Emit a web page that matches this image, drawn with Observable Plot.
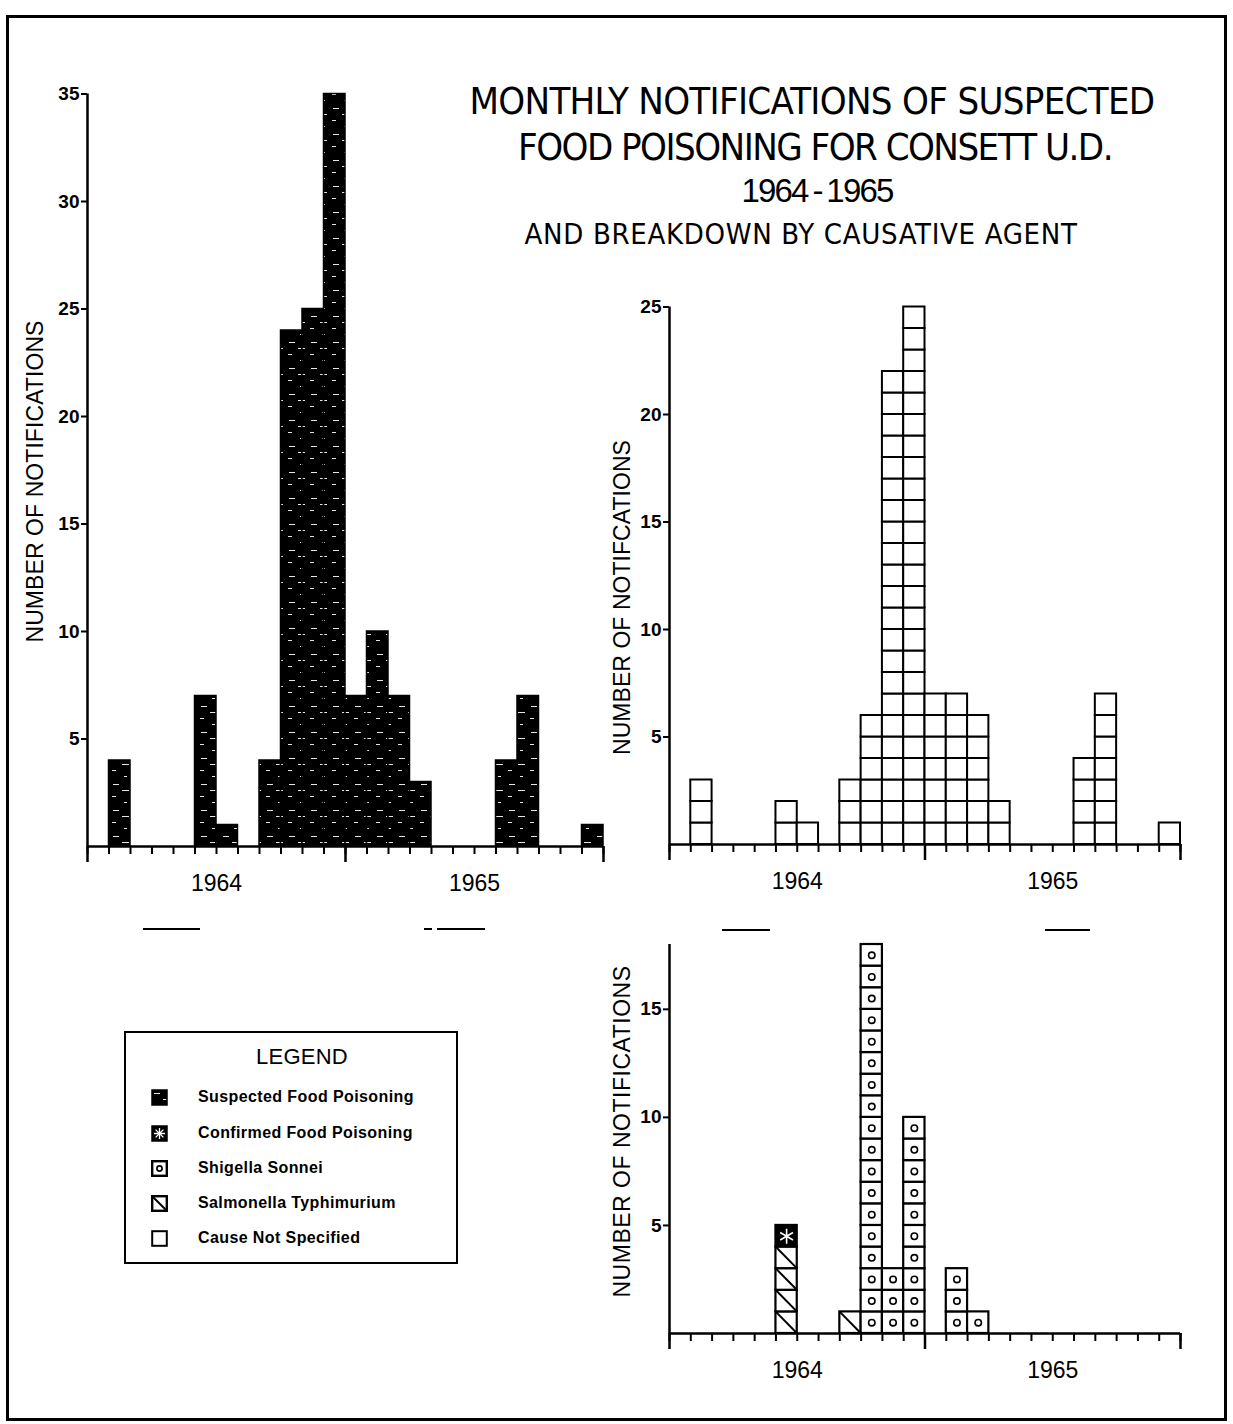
<!DOCTYPE html>
<html>
<head>
<meta charset="utf-8">
<script src="https://cdn.jsdelivr.net/npm/d3@7"></script>
<script src="https://cdn.jsdelivr.net/npm/@observablehq/plot@0.6"></script>
<style>
  html, body { margin: 0; padding: 0; background: #fff; }
  #page { position: relative; width: 1233px; height: 1424px; overflow: hidden; background: #fff; color: #000;
          font-family: "Liberation Sans", Arial, sans-serif; }
  #page svg.chart { position: absolute; overflow: visible; max-width: none; }
  .frame { position: absolute; border: 3px solid #000; box-sizing: border-box; }
  .dash { position: absolute; height: 2px; background: #000; }
</style>
</head>
<body>
<svg width="0" height="0" style="position:absolute">
  <defs>
    <pattern id="susp" patternUnits="userSpaceOnUse" width="22" height="26">
      <rect width="22" height="26" fill="#000"/>
      <g stroke="#fff" stroke-width="1" opacity="0.9">
        <line x1="3" y1="4.5" x2="9" y2="4.5"/>
        <line x1="12" y1="10.5" x2="19" y2="10.5"/>
        <line x1="2" y1="16.5" x2="6" y2="16.5"/>
        <line x1="14" y1="22.5" x2="17" y2="22.5"/>
      </g>
    </pattern>
  </defs>
</svg>
<div id="page"></div>
<script>
// ---------------- data ----------------
const yearLabels = ["1964", "1965"];
const yearTickPos = [6, 18];           // middle of each 12-month block
const monthTicks = d3.range(25);        // 24 monthly intervals
const majorTicks = [0, 12, 24];

// Chart 1: all notifications of suspected food poisoning, by month index
const totalMonths = [1, 5, 6, 8, 9, 10, 11, 12, 13, 14, 15, 19, 20, 23];
const totalCounts = [4, 7, 1, 4, 24, 25, 35, 7, 10, 7, 3, 4, 7, 1];
const totalTicks = [5, 10, 15, 20, 25, 30, 35];

// Chart 2: cause not specified
const unspecMonths = [1, 5, 6, 8, 9, 10, 11, 12, 13, 14, 15, 19, 20, 23];
const unspecCounts = [3, 2, 1, 3, 6, 22, 25, 7, 7, 6, 2, 4, 7, 1];
const unspecTicks = [5, 10, 15, 20, 25];

// Chart 3: breakdown by causative agent
const agentMonths = [5, 8, 9, 10, 11, 13, 14];
const salmonella  = [4, 1, 0, 0, 0, 0, 0];
const confirmed   = [1, 0, 0, 0, 0, 0, 0];
const shigella    = [0, 0, 18, 3, 10, 3, 1];
const agentTicks = [5, 10, 15];

const legendItems = ["Suspected Food Poisoning", "Confirmed Food Poisoning", "Shigella Sonnei", "Salmonella Typhimurium", "Cause Not Specified"];

// ---------------- helpers ----------------
const page = document.getElementById("page");
const SANS = '"Liberation Sans", Arial, sans-serif';
const NARROW = '"Liberation Sans Narrow", "DejaVu Sans Condensed", "Liberation Sans", sans-serif';

function text(str, {x, y, size, weight = "normal", family = SANS, rotate = 0, width = null, ls = 0}) {
  const d = document.createElement("div");
  d.textContent = str;
  Object.assign(d.style, {position: "absolute", left: "0px", top: "0px", fontSize: size + "px", fontWeight: weight,
    fontFamily: family, whiteSpace: "nowrap", lineHeight: "1", letterSpacing: ls + "px"});
  page.appendChild(d);
  if (width) {
    const w0 = d.getBoundingClientRect().width;
    const extra = (width - w0) / str.length;
    d.style.letterSpacing = (ls + extra) + "px";
  }
  const r = d.getBoundingClientRect();
  d.style.left = (x - r.width / 2) + "px";
  d.style.top = (y - r.height / 2) + "px";
  if (rotate) d.style.transform = `rotate(${rotate}deg)`;
  return d;
}

function place(svg, left, top) {
  svg.classList.add("chart");
  svg.style.left = left + "px";
  svg.style.top = top + "px";
  svg.style.fontFamily = SANS;
  svg.style.background = "transparent";
  page.appendChild(svg);
}

function commonAxes(yTicks, yMax) {
  return [
    Plot.ruleY([0], {x1: () => 0, x2: () => 24, strokeWidth: 2.5}),
    Plot.ruleX([0], {y1: () => 0, y2: () => yMax, strokeWidth: 2.5}),
    Plot.axisY({ticks: yTicks, tickSize: 6, tickPadding: 2, fontSize: 19, fontWeight: "bold", strokeWidth: 2, label: null}),
    Plot.axisX({ticks: monthTicks, tickSize: 8, tickFormat: () => "", strokeWidth: 2, label: null}),
    Plot.axisX({ticks: majorTicks, tickSize: 16, tickFormat: () => "", strokeWidth: 2.5, label: null}),
    Plot.axisX({ticks: yearTickPos, tickSize: 0, tickPadding: 28, fontSize: 23,
                tickFormat: d => yearLabels[yearTickPos.indexOf(d)], label: null})
  ];
}

// ---------------- chart 1 ----------------
const totalData = totalMonths.map((m, i) => ({m, v: totalCounts[i]}));
const c1 = Plot.plot({
  width: 640, height: 920,
  marginLeft: 87, marginRight: 37, marginTop: 93.5, marginBottom: 74,
  x: {domain: [0, 24]}, y: {domain: [0, 35]},
  marks: [
    Plot.rect(totalData, {x1: "m", x2: d => d.m + 1, y1: () => 0, y2: "v", fill: "url(#susp)", stroke: "#000", strokeWidth: 1.5}),
    ...commonAxes(totalTicks, 35)
  ]
});
place(c1, 0, 0);

// ---------------- chart 2 ----------------
const unspecCells = unspecMonths.flatMap((m, i) => d3.range(unspecCounts[i]).map(k => ({m, k})));
const c2 = Plot.plot({
  width: 620, height: 680,
  marginLeft: 69, marginRight: 40, marginTop: 56.5, marginBottom: 86,
  x: {domain: [0, 24]}, y: {domain: [0, 25]},
  marks: [
    Plot.rect(unspecCells, {x1: "m", x2: d => d.m + 1, y1: "k", y2: d => d.k + 1, fill: "#fff", stroke: "#000", strokeWidth: 2}),
    ...commonAxes(unspecTicks, 25)
  ]
});
place(c2, 600, 250);

// ---------------- chart 3 ----------------
const agentCells = [];
agentMonths.forEach((m, i) => {
  let base = 0;
  [["salmonella", salmonella], ["confirmed", confirmed], ["shigella", shigella]].forEach(([agent, arr]) => {
    for (let k = 0; k < arr[i]; k++) agentCells.push({m, k: base + k, agent});
    base += arr[i];
  });
});
const c3 = Plot.plot({
  width: 620, height: 500,
  marginLeft: 69, marginRight: 40, marginTop: 44, marginBottom: 67,
  x: {domain: [0, 24]}, y: {domain: [0, 18]},
  marks: [
    Plot.rect(agentCells, {x1: "m", x2: d => d.m + 1, y1: "k", y2: d => d.k + 1,
      fill: d => d.agent === "confirmed" ? "#000" : "#fff", stroke: "#000", strokeWidth: 2.2}),
    Plot.link(agentCells.filter(d => d.agent === "salmonella"),
      {x1: "m", y1: d => d.k + 1, x2: d => d.m + 1, y2: "k", stroke: "#000", strokeWidth: 2}),
    Plot.dot(agentCells.filter(d => d.agent === "shigella"),
      {x: d => d.m + 0.5, y: d => d.k + 0.5, r: 3.2, stroke: "#000", strokeWidth: 1.6, fill: "#fff"}),
    Plot.dot(agentCells.filter(d => d.agent === "confirmed"),
      {x: d => d.m + 0.5, y: d => d.k + 0.5, r: 7, symbol: "asterisk", stroke: "#fff", strokeWidth: 1.6}),
    ...commonAxes(agentTicks, 18)
  ]
});
place(c3, 600, 900);

// ---------------- titles & axis labels ----------------
text("MONTHLY NOTIFICATIONS OF SUSPECTED", {x: 812, y: 101, size: 38, family: NARROW, width: 685});
text("FOOD POISONING FOR CONSETT U.D.", {x: 815, y: 147, size: 38, family: NARROW, width: 594});
text("1964\u2009-\u20091965", {x: 817, y: 190, size: 33, family: SANS, width: 151});
text("AND BREAKDOWN BY CAUSATIVE AGENT", {x: 801, y: 234, size: 29, family: NARROW, width: 553});

text("NUMBER OF NOTIFICATIONS", {x: 35, y: 481, size: 23, rotate: -90, width: 322});
text("NUMBER OF NOTIFCATIONS", {x: 622, y: 597, size: 23, rotate: -90, width: 315});
text("NUMBER OF NOTIFICATIONS", {x: 622, y: 1131, size: 23, rotate: -90, width: 332});

// ---------------- legend ----------------
const lg = document.createElement("div");
lg.className = "frame";
Object.assign(lg.style, {left: "124px", top: "1031px", width: "334px", height: "233px", borderWidth: "2px"});
page.appendChild(lg);
text("LEGEND", {x: 302, y: 1057, size: 22, width: 92});
const swatchSvg = [
  '<rect x="1" y="1" width="15" height="15" fill="url(#susp)" stroke="#000" stroke-width="1.5"/>',
  '<rect x="1" y="1" width="15" height="15" fill="#000" stroke="#000" stroke-width="1.5"/><path d="M8.5 3v11M3 8.5h11M4.6 4.6l7.8 7.8M12.4 4.6l-7.8 7.8" stroke="#fff" stroke-width="1.3"/>',
  '<rect x="1.2" y="1.2" width="14.6" height="14.6" fill="#fff" stroke="#000" stroke-width="2.4"/><circle cx="8.5" cy="8.5" r="2.6" fill="none" stroke="#000" stroke-width="1.7"/>',
  '<rect x="1.2" y="1.2" width="14.6" height="14.6" fill="#fff" stroke="#000" stroke-width="2.4"/><line x1="1.5" y1="1.5" x2="15.5" y2="15.5" stroke="#000" stroke-width="2"/>',
  '<rect x="1.2" y="1.2" width="14.6" height="14.6" fill="#fff" stroke="#000" stroke-width="2"/>'
];
const rowY = [1097, 1133, 1168, 1203, 1238];
legendItems.forEach((name, i) => {
  const s = document.createElementNS("http://www.w3.org/2000/svg", "svg");
  s.setAttribute("width", 17); s.setAttribute("height", 17);
  s.innerHTML = swatchSvg[i];
  Object.assign(s.style, {position: "absolute", left: "151px", top: (rowY[i] - 8.5) + "px"});
  page.appendChild(s);
  const t = text(name, {x: 0, y: rowY[i], size: 16, weight: "bold", ls: 0.4});
  t.style.left = "198px";
});

// ---------------- page frame & stray marks ----------------
const fr = document.createElement("div");
fr.className = "frame";
Object.assign(fr.style, {left: "6px", top: "15px", width: "1221px", height: "1406px"});
page.appendChild(fr);
[[143, 928, 57], [424, 928, 8], [437, 928, 48], [722, 929, 48], [1045, 929, 45]].forEach(([x, y, w]) => {
  const d = document.createElement("div");
  d.className = "dash";
  Object.assign(d.style, {left: x + "px", top: y + "px", width: w + "px"});
  page.appendChild(d);
});
</script>
</body>
</html>
